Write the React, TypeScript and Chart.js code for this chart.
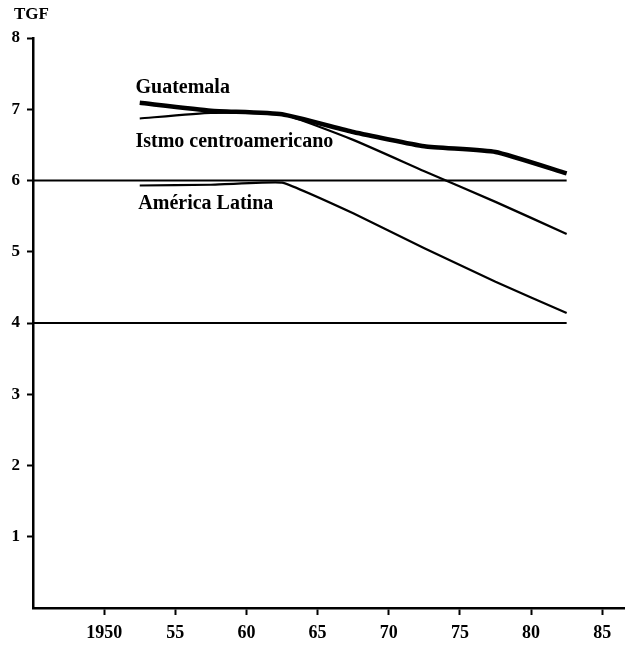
import React, { useEffect, useRef } from "react";
import { Chart, registerables } from "chart.js";

Chart.register(...registerables);

// Periods (quinquennial midpoints)
const years = [1952.5, 1957.5, 1962.5, 1967.5, 1972.5, 1977.5, 1982.5];
const guatemala = [7.09, 6.98, 6.93, 6.68, 6.48, 6.4, 6.1];
const istmo = [6.87, 6.95, 6.93, 6.57, 6.13, 5.7, 5.25];
const americaLatina = [5.93, 5.94, 5.97, 5.54, 5.05, 4.58, 4.14];

// Horizontal reference lines
const refValues = [6, 4];
const refYears = [1945, 1982.5];

// Axis ticks
const xTickYears = [1950, 1955, 1960, 1965, 1970, 1975, 1980, 1985];
const xTickLabels = ["1950", "55", "60", "65", "70", "75", "80", "85"];
const yTicks = [1, 2, 3, 4, 5, 6, 7, 8];

// Series labels: [text, year, value]
const seriesLabels: [string, number, number][] = [
  ["Guatemala", 1952.2, 7.3],
  ["Istmo centroamericano", 1952.2, 6.54],
  ["América Latina", 1952.4, 5.67],
];
const yTitle = "TGF";

const FONT = '"Liberation Serif", "DejaVu Serif", serif';

const labelPlugin = {
  id: "seriesLabels",
  afterDatasetsDraw(chart: any) {
    const ctx = chart.ctx;
    const xs = chart.scales.x;
    const ys = chart.scales.y;
    ctx.save();
    ctx.fillStyle = "#000";
    ctx.textBaseline = "middle";
    ctx.textAlign = "left";
    ctx.font = `bold 20px ${FONT}`;
    seriesLabels.forEach(([t, yr, v]) => {
      ctx.fillText(t, xs.getPixelForValue(yr), ys.getPixelForValue(v));
    });
    ctx.font = `bold 17px ${FONT}`;
    ctx.fillText(yTitle, 14, 15);
    ctx.restore();
  },
};

export default function App() {
  const ref = useRef<HTMLCanvasElement | null>(null);
  useEffect(() => {
    document.body.style.margin = "0";
    const line = (data: number[], w: number, t: number) => ({
      data: years.map((x, i) => ({ x, y: data[i] })),
      borderColor: "#000",
      borderWidth: w,
      pointRadius: 0,
      tension: t,
      fill: false,
    });
    const refSets = refValues.map((v) => ({
      data: refYears.map((x) => ({ x, y: v })),
      borderColor: "#000",
      borderWidth: 2,
      pointRadius: 0,
      fill: false,
    }));
    const chart = new Chart(ref.current as HTMLCanvasElement, {
      type: "line",
      data: {
        datasets: [
          ...refSets,
          line(americaLatina, 2.2, 0.1),
          line(istmo, 2.2, 0.15),
          line(guatemala, 4.5, 0.15),
        ] as any,
      },
      plugins: [labelPlugin],
      options: {
        animation: false,
        responsive: false,
        layout: { padding: { top: 38, left: 0, right: 0, bottom: 0 } },
        plugins: { legend: { display: false }, tooltip: { enabled: false } },
        scales: {
          x: {
            type: "linear",
            min: 1945,
            max: 1986.6,
            afterFit: (s: any) => {
              s.height = 38;
            },
            afterBuildTicks: (s: any) => {
              s.ticks = xTickYears.map((v) => ({ value: v }));
            },
            ticks: {
              callback: (v: any) => xTickLabels[xTickYears.indexOf(Number(v))] ?? "",
              color: "#000",
              font: { family: FONT, size: 18, weight: "bold" },
              padding: 8,
              maxRotation: 0,
              autoSkip: false,
            },
            grid: {
              drawOnChartArea: false,
              drawTicks: true,
              tickLength: 7,
              tickColor: "#000",
              tickWidth: 2,
            },
            border: { color: "#000", width: 2.5 },
          },
          y: {
            type: "linear",
            min: 0,
            max: 8,
            afterFit: (s: any) => {
              s.width = 33;
            },
            afterBuildTicks: (s: any) => {
              s.ticks = yTicks.map((v) => ({ value: v }));
            },
            ticks: {
              color: "#000",
              font: { family: FONT, size: 17, weight: "bold" },
              padding: 7,
            },
            grid: {
              drawOnChartArea: false,
              drawTicks: true,
              tickLength: 6,
              tickColor: "#000",
              tickWidth: 2,
            },
            border: { color: "#000", width: 2.5 },
          },
        },
      },
    });
    return () => chart.destroy();
  }, []);
  return <canvas ref={ref} width={625} height={646} style={{ display: "block" }} />;
}
